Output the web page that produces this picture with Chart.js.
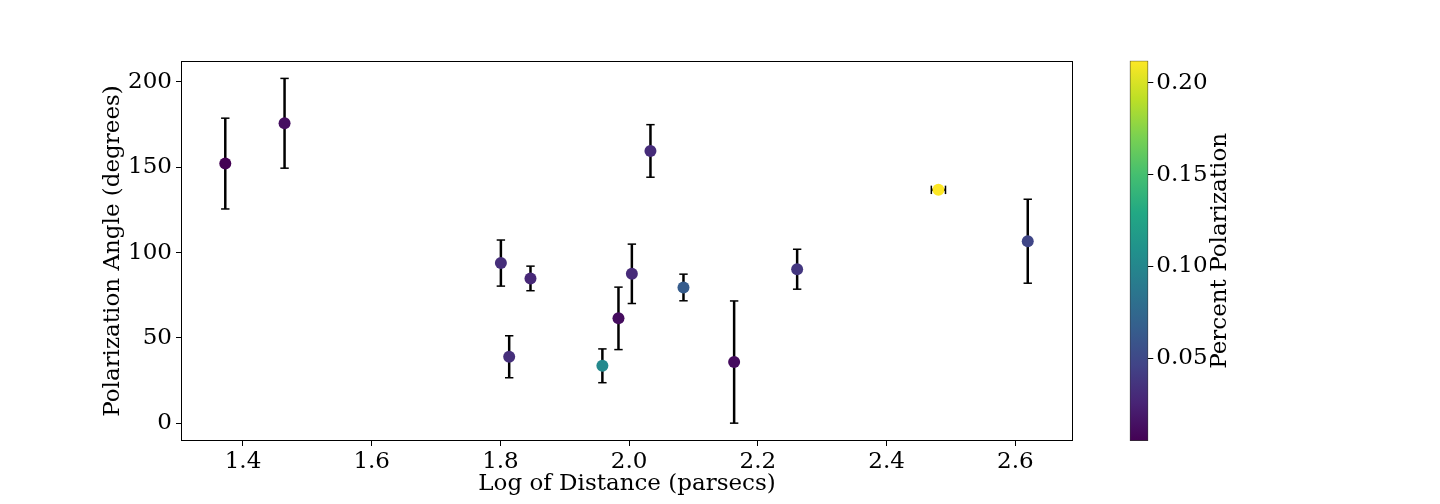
<!DOCTYPE html>
<html>
<head>
<meta charset="utf-8">
<script src="https://cdn.jsdelivr.net/npm/chart.js@4.4.1/dist/chart.umd.min.js"></script>
<style>
  html, body { margin: 0; padding: 0; background: #fff; }
  #wrap { position: relative; width: 1440px; height: 504px; }
  #main { position: absolute; left: 0; top: 0; }
  #cbar { position: absolute; left: 1100px; top: 0; }
</style>
</head>
<body>
<div id="wrap">
  <canvas id="main" width="1440" height="504"></canvas>
  <canvas id="cbar" width="340" height="504"></canvas>
</div>
<script>
// ---- data ----
const distanceLog   = [1.3725, 1.4646, 1.8007, 1.8136, 1.8467, 1.9584, 1.9834, 2.0042, 2.0331, 2.0844, 2.1631, 2.2610, 2.4805, 2.6193];
const angle         = [152.2, 175.8, 93.9, 39.0, 84.9, 33.7, 61.5, 87.6, 159.6, 79.6, 35.9, 90.3, 136.8, 106.7];
const angleErr      = [26.6, 26.3, 13.5, 12.3, 7.2, 9.9, 18.3, 17.4, 15.4, 7.8, 35.8, 11.7, 0, 24.6];
const distanceErr   = [0, 0, 0, 0, 0, 0, 0, 0, 0, 0, 0, 0, 0.011, 0];
const polarization  = [0.005, 0.013, 0.032, 0.033, 0.028, 0.102, 0.012, 0.030, 0.031, 0.065, 0.011, 0.038, 0.212, 0.048];
const xTicks        = [1.4, 1.6, 1.8, 2.0, 2.2, 2.4, 2.6];
const yTicks        = [0, 50, 100, 150, 200];
const cbTicks       = [0.05, 0.10, 0.15, 0.20];

// ---- colour map (viridis) ----
const viridisStops = ['#440154','#482475','#414487','#355f8d','#2a788e','#21918c','#22a884','#44bf70','#7ad151','#bddf26','#fde725'];
const cbMin = Math.min(...polarization);
const cbMax = Math.max(...polarization);
function hexToRgb(h) { return [parseInt(h.slice(1,3),16), parseInt(h.slice(3,5),16), parseInt(h.slice(5,7),16)]; }
function viridisT(t) {
  t = Math.max(0, Math.min(1, t));
  const f = t * (viridisStops.length - 1);
  const i = Math.min(Math.floor(f), viridisStops.length - 2);
  const r = f - i;
  const a = hexToRgb(viridisStops[i]), b = hexToRgb(viridisStops[i + 1]);
  const c = a.map((v, k) => Math.round(v + (b[k] - v) * r));
  return `rgb(${c[0]},${c[1]},${c[2]})`;
}
function viridis(v) { return viridisT((v - cbMin) / (cbMax - cbMin)); }

const FONT = { family: "'DejaVu Serif', serif", size: 23 };
Chart.defaults.font.family = FONT.family;
Chart.defaults.color = '#000';

// ---- plugins ----
const errorBars = {
  id: 'errorBars',
  beforeDatasetsDraw(chart) {
    const { ctx, scales: { x, y } } = chart;
    const seg = (x1, y1, x2, y2) => { ctx.beginPath(); ctx.moveTo(x1, y1); ctx.lineTo(x2, y2); ctx.stroke(); };
    ctx.save();
    ctx.strokeStyle = '#000';
    distanceLog.forEach((dx, i) => {
      const px = x.getPixelForValue(dx);
      const py = y.getPixelForValue(angle[i]);
      if (angleErr[i] > 0) {
        const t = y.getPixelForValue(angle[i] + angleErr[i]);
        const b = y.getPixelForValue(angle[i] - angleErr[i]);
        ctx.lineWidth = 2.5; seg(px, t, px, b);
        ctx.lineWidth = 1.5; seg(px - 4.2, t, px + 4.2, t); seg(px - 4.2, b, px + 4.2, b);
      }
      if (distanceErr[i] > 0) {
        const l = x.getPixelForValue(dx - distanceErr[i]);
        const r = x.getPixelForValue(dx + distanceErr[i]);
        ctx.lineWidth = 2.5; seg(l, py, r, py);
        ctx.lineWidth = 1.5; seg(l, py - 4.2, l, py + 4.2); seg(r, py - 4.2, r, py + 4.2);
      }
    });
    ctx.restore();
  }
};
const frame = {
  id: 'frame',
  afterDraw(chart) {
    const { ctx, chartArea: a } = chart;
    ctx.save();
    ctx.strokeStyle = '#000';
    ctx.lineWidth = 1;
    ctx.strokeRect(Math.round(a.left) + 0.5, Math.round(a.top) + 0.5, Math.round(a.right - a.left) - 1, Math.round(a.bottom - a.top) - 1);
    ctx.restore();
  }
};

// ---- main scatter chart ----
new Chart(document.getElementById('main'), {
  type: 'scatter',
  data: {
    datasets: [{
      data: distanceLog.map((x, i) => ({ x, y: angle[i] })),
      pointBackgroundColor: polarization.map(viridis),
      pointBorderWidth: 0,
      pointRadius: 6,
      pointHoverRadius: 6
    }]
  },
  options: {
    responsive: false,
    animation: false,
    events: [],
    layout: { padding: { left: 90, right: 367, top: 61, bottom: 0 } },
    plugins: { legend: { display: false }, tooltip: { enabled: false } },
    scales: {
      x: {
        type: 'linear',
        min: 1.3037, max: 2.6896,
        afterBuildTicks: s => { s.ticks = xTicks.map(value => ({ value })); },
        afterFit: s => { s.height = 63; },
        ticks: { font: FONT, color: '#000', padding: 2, maxRotation: 0, autoSkip: false, callback: v => v.toFixed(1) },
        grid: { drawOnChartArea: false, drawTicks: true, tickLength: 5, color: '#000', tickWidth: 1 },
        border: { display: false },
        title: { display: true, text: 'Log of Distance (parsecs)', font: FONT, color: '#000', padding: { top: 0, bottom: 6 } }
      },
      y: {
        type: 'linear',
        min: -10.36, max: 212.3,
        afterBuildTicks: s => { s.ticks = yTicks.map(value => ({ value })); },
        afterFit: s => { s.width = 91; },
        ticks: { font: FONT, color: '#000', padding: 4, autoSkip: false, callback: v => String(v) },
        grid: { drawOnChartArea: false, drawTicks: true, tickLength: 5, color: '#000', tickWidth: 1 },
        border: { display: false },
        title: { display: true, text: 'Polarization Angle (degrees)', font: FONT, color: '#000', padding: { top: 9, bottom: 0 } }
      }
    }
  },
  plugins: [errorBars, frame]
});

// ---- colour bar ----
const cbTitle = {
  id: 'cbTitle',
  afterDraw(chart) {
    const { ctx, chartArea: a } = chart;
    ctx.save();
    ctx.translate(120, (a.top + a.bottom) / 2);
    ctx.rotate(-Math.PI / 2);
    ctx.font = `${FONT.size}px ${FONT.family}`;
    ctx.fillStyle = '#000';
    ctx.textAlign = 'center';
    ctx.textBaseline = 'middle';
    ctx.fillText('Percent Polarization', 0, 0);
    ctx.restore();
  }
};
new Chart(document.getElementById('cbar'), {
  type: 'bar',
  data: {
    labels: [''],
    datasets: [{
      data: [[cbMin, cbMax]],
      backgroundColor: (c) => {
        const { chart } = c;
        const a = chart.chartArea;
        if (!a) return '#888';
        const g = chart.ctx.createLinearGradient(0, a.bottom, 0, a.top);
        viridisStops.forEach((col, i) => g.addColorStop(i / (viridisStops.length - 1), col));
        return g;
      },
      borderColor: '#333',
      borderWidth: 1,
      borderSkipped: false,
      categoryPercentage: 1,
      barPercentage: 1
    }]
  },
  options: {
    responsive: false,
    animation: false,
    events: [],
    layout: { padding: { left: 29.7, right: 191.7, top: 60.7, bottom: 63 } },
    plugins: { legend: { display: false }, tooltip: { enabled: false } },
    scales: {
      x: { display: false },
      y: {
        position: 'right',
        min: cbMin, max: cbMax,
        afterBuildTicks: s => { s.ticks = cbTicks.map(value => ({ value })); },
        afterFit: s => { s.width = 100; },
        ticks: { font: FONT, color: '#000', padding: 3, autoSkip: false, callback: v => v.toFixed(2) },
        grid: { drawOnChartArea: false, drawTicks: true, tickLength: 5, color: '#000', tickWidth: 1 },
        border: { display: false }
      }
    }
  },
  plugins: [cbTitle]
});
</script>
</body>
</html>
